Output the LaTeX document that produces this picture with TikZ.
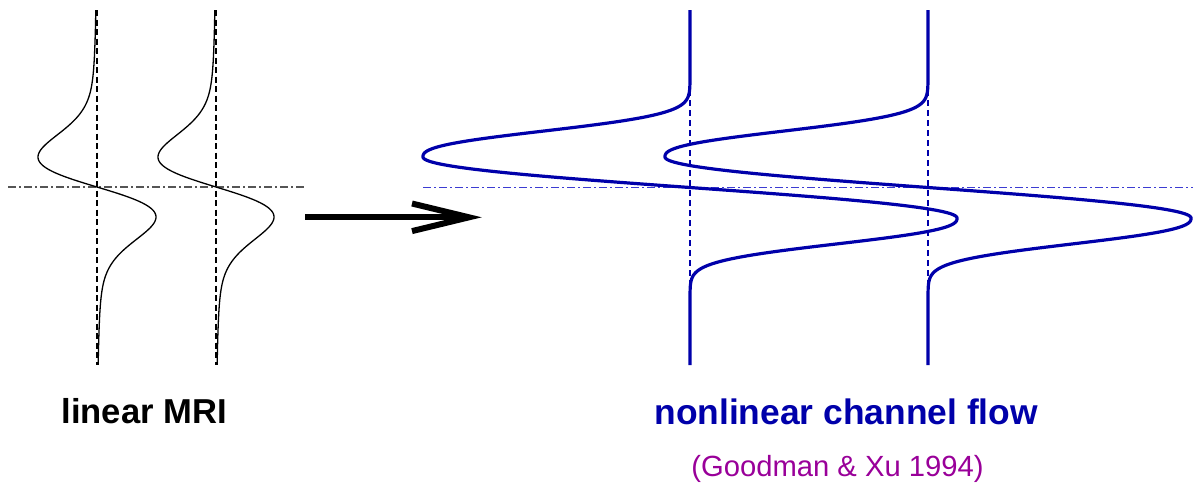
\documentclass[tikz,border=0pt]{standalone}
\usepackage{fontspec}
\setmainfont{Liberation Sans}
\definecolor{dblue}{RGB}{0,0,170}
\definecolor{lblue}{RGB}{60,60,210}
\definecolor{purp}{RGB}{153,0,153}
\definecolor{dgray}{RGB}{85,85,85}
\begin{document}
\begin{tikzpicture}[x=0.5pt,y=-0.5pt,
  declare function={
    gl(\x)=\x*exp(max((1-\x*\x)/2,-9));
    rl(\x)=16/9*\x/((1+\x*\x/3)^2);
    FL(\x)=0.7*gl(\x)+0.3*rl(\x);
    uu(\x)=min(max(abs(\x)-1,0),2.5);
    FR(\x)=ifthenelse(abs(\x)<1, sin(90*\x), sign(\x)*exp(-0.9*uu(\x)*uu(\x)*sqrt(uu(\x))));
  },
  lcurve/.style={draw=black, line width=0.65pt},
  rcurve/.style={draw=dblue, line width=1.6pt},
  lvert/.style={draw=black, line width=0.65pt, dash pattern=on 3pt off 1.75pt},
  rvert/.style={draw=dblue, line width=0.65pt, dash pattern=on 3pt off 2pt},
  ldashdot/.style={draw=dgray, line width=0.55pt, dash pattern=on 4pt off 1.5pt on 1pt off 1.5pt},
  rdashdot/.style={draw=lblue, line width=0.6pt, dash pattern=on 4pt off 1.5pt on 1pt off 1.5pt},
  arrowline/.style={draw=black, line width=3pt},
  lbl/.style={inner sep=0pt, anchor=base west}
]
\useasboundingbox (0,0) rectangle (1193,484);

% ---------- left panel: linear MRI ----------
\coordinate (lv1t) at (97,10);   \coordinate (lv1b) at (97,365);
\coordinate (lv2t) at (216,10);  \coordinate (lv2b) at (216,365);
\coordinate (lhl) at (8,187);    \coordinate (lhr) at (305,187);
\draw[lvert] (lv1t) -- (lv1b);
\draw[lvert] (lv2t) -- (lv2b);
\draw[ldashdot] (lhl) -- (lhr);
\draw[lcurve] plot[variable=\x, domain=-5.93:5.9, samples=500] ({97-59*FL(\x)},{187-30*\x});
\draw[lcurve] plot[variable=\x, domain=-5.93:5.9, samples=500] ({216-58*FL(\x)},{187-30*\x});

% ---------- arrow ----------
\coordinate (arrS) at (305,217.3);
\coordinate (arrT) at (469,217.3);
\coordinate (barbU) at (412,203.5);
\coordinate (barbL) at (412,231.1);
\draw[arrowline] (arrS) -- (arrT);
\draw[arrowline, miter limit=10] (barbU) -- (arrT) -- (barbL);

% ---------- right panel: nonlinear channel flow ----------
\coordinate (rv1t) at (690,10);  \coordinate (rv1b) at (690,365);
\coordinate (rv2t) at (928,10);  \coordinate (rv2b) at (928,365);
\coordinate (rhl) at (423,187.5); \coordinate (rhr) at (1193,187.5);
\draw[rvert] (rv1t) -- (rv1b);
\draw[rvert] (rv2t) -- (rv2b);
\draw[rdashdot] (rhl) -- (rhr);
\draw[rcurve] plot[variable=\x, domain=-5.82:5.82, samples=1001] ({690-267*FR(\x)},{187.5-30.5*\x});
\draw[rcurve] plot[variable=\x, domain=-5.82:5.82, samples=1001] ({928-263*FR(\x)},{187.5-30.5*\x});

% ---------- labels ----------
\node[lbl, font=\fontsize{17.3pt}{20pt}\selectfont\bfseries] (linlbl) at (61,423.5) {linear MRI};
\node[lbl, text=dblue, font=\fontsize{17.7pt}{20pt}\selectfont\bfseries] (nonlbl) at (654,424.5) {nonlinear channel flow};
\node[lbl, text=purp, font=\fontsize{14.6pt}{17pt}\selectfont] (reflbl) at (691,476.5) {(Goodman \& Xu 1994)};
\end{tikzpicture}
\end{document}
